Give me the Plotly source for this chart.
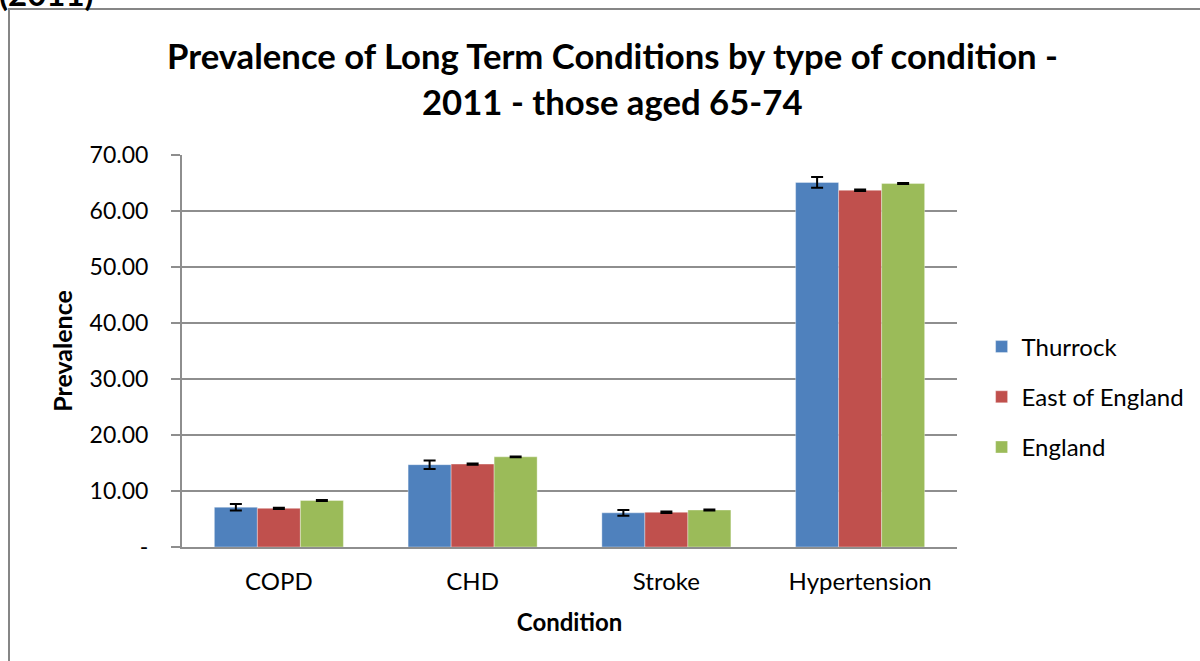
import plotly.graph_objects as go

# Prevalence (%) of long term conditions, people aged 65-74, 2011
conditions = ["COPD", "CHD", "Stroke", "Hypertension"]
thurrock = [7.1, 14.7, 6.1, 65.1]
thurrock_err = [0.6, 0.75, 0.5, 0.95]
east_of_england = [6.9, 14.8, 6.2, 63.7]
east_err = [0.12, 0.12, 0.12, 0.12]
england = [8.3, 16.1, 6.6, 64.9]
england_err = [0.08, 0.08, 0.08, 0.08]

y_ticks = [0, 10, 20, 30, 40, 50, 60, 70]
y_tick_text = ["-", "10.00", "20.00", "30.00", "40.00", "50.00", "60.00", "70.00"]

FONT = "Lato"
GRID = "#8E8E8E"

W, H = 1200, 661
L, R, T, B = 182, 243, 155, 114
PW, PH = W - L - R, H - T - B


def px_x(x):
    return (x - L) / PW


def px_y(y):
    return 1 - (y - T) / PH


series = [
    ("Thurrock", thurrock, thurrock_err, "#4F81BD"),
    ("East of England", east_of_england, east_err, "#C0504D"),
    ("England", england, england_err, "#9BBB59"),
]

fig = go.Figure()
for name, vals, errs, color in series:
    fig.add_trace(go.Bar(
        name=name, x=conditions, y=vals, legendgroup=name,
        marker=dict(color=color, line=dict(color="rgba(255,255,255,0.35)", width=1)),
        error_y=dict(type="data", array=errs, visible=True, color="black",
                     thickness=2, width=6),
    ))

fig.update_layout(
    width=W, height=H,
    margin=dict(l=L, r=R, t=T, b=B),
    paper_bgcolor="white", plot_bgcolor="white",
    barmode="group", bargap=0.334, bargroupgap=0,
    font=dict(family=FONT, size=22, color="black"),
    showlegend=True,
    legend=dict(xref="container", yref="container", x=0.818, y=1 - 397 / H,
                xanchor="left", yanchor="middle", tracegroupgap=16,
                font=dict(family=FONT, size=24, color="black"),
                bgcolor="rgba(0,0,0,0)"),
    xaxis=dict(showline=True, linecolor=GRID, linewidth=2, ticks="",
               tickfont=dict(family=FONT, size=24), showgrid=False,
               ticklabelstandoff=12,
               title=dict(text="<b>Condition</b>", font=dict(family=FONT, size=24),
                          standoff=20)),
    yaxis=dict(range=[0, 70], tickvals=y_ticks, ticktext=y_tick_text,
               showline=True, linecolor=GRID, linewidth=2,
               ticks="outside", ticklen=9, tickwidth=2, tickcolor=GRID,
               showgrid=True, gridcolor=GRID, gridwidth=2, zeroline=False,
               tickfont=dict(family=FONT, size=23), ticklabelstandoff=18,
               title=dict(text="<b>Prevalence</b>", font=dict(family=FONT, size=25),
                          standoff=10)),
)

# Title lines
fig.add_annotation(xref="paper", yref="paper", x=px_x(612), y=px_y(55),
                   text="<b>Prevalence of Long Term Conditions by type of condition -</b>",
                   showarrow=False, xanchor="center", yanchor="middle",
                   font=dict(family=FONT, size=34.7, color="black"))
fig.add_annotation(xref="paper", yref="paper", x=px_x(612), y=px_y(101),
                   text="<b>2011 - those aged 65-74</b>",
                   showarrow=False, xanchor="center", yanchor="middle",
                   font=dict(family=FONT, size=34.7, color="black"))

# Heading text above the chart frame
fig.add_annotation(xref="paper", yref="paper", x=px_x(-3), y=px_y(15),
                   text="<b>(2011)</b>", showarrow=False,
                   xanchor="left", yanchor="bottom",
                   font=dict(family=FONT, size=33, color="black"))

# Chart frame
fig.add_shape(type="rect", xref="paper", yref="paper",
              x0=px_x(9), x1=px_x(1260), y0=px_y(720), y1=px_y(9),
              line=dict(color="#868686", width=2), fillcolor="rgba(0,0,0,0)",
              layer="below")

fig.write_html("out.html")
